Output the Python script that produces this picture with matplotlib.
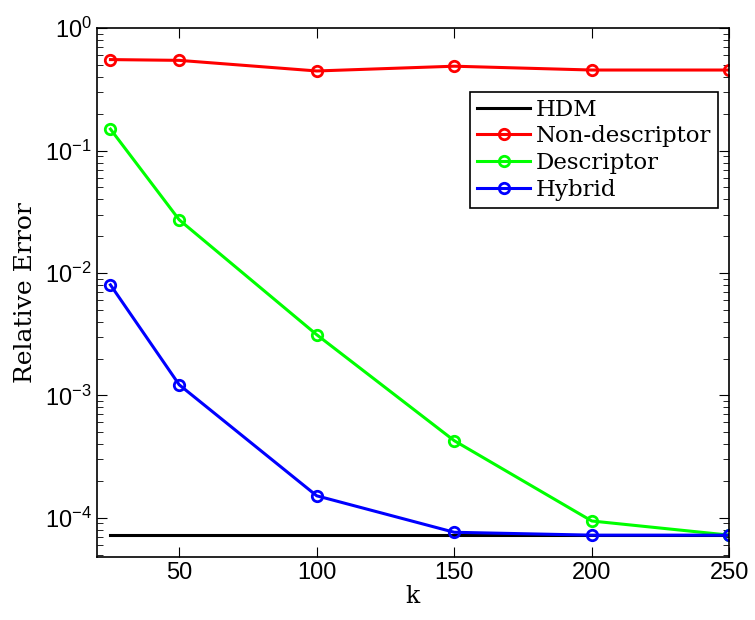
import matplotlib
matplotlib.use("Agg")
import matplotlib.pyplot as plt

# data
k = [25, 50, 100, 150, 200, 250]
hdm = [7.2e-5, 7.2e-5, 7.2e-5, 7.2e-5, 7.2e-5, 7.2e-5]
non_descriptor = [0.555, 0.547, 0.448, 0.49, 0.456, 0.456]
descriptor = [0.15, 0.0272, 0.00313, 4.26e-4, 9.4e-5, 7.2e-5]
hybrid = [8.0e-3, 1.22e-3, 1.51e-4, 7.6e-5, 7.2e-5, 7.2e-5]
xticks = [50, 100, 150, 200, 250]

plt.rcParams['mathtext.fontset'] = 'custom'
plt.rcParams['mathtext.rm'] = 'Liberation Sans'
plt.rcParams['mathtext.it'] = 'Liberation Sans:italic'
plt.rcParams['font.family'] = 'Liberation Sans'

serif = 'DejaVu Serif'

fig = plt.figure(figsize=(7.55, 6.2), dpi=100)
ax = fig.add_axes([96.7 / 755, 1 - 556.7 / 620, (729.3 - 96.7) / 755, (556.7 - 28.3) / 620])

mk = dict(marker='o', markersize=7.5, markerfacecolor='none', markeredgewidth=2)
ax.plot(k, hdm, color='black', lw=2.2, label='HDM')
ax.plot(k, non_descriptor, color='red', lw=2.2, label='Non-descriptor', **mk)
ax.plot(k, descriptor, color='#00ff00', lw=2.2, label='Descriptor', **mk)
ax.plot(k, hybrid, color='blue', lw=2.2, label='Hybrid', **mk)

ax.set_yscale('log')
ax.set_xlim(20, 250)
ax.set_ylim(4.8e-5, 1)
ax.set_xticks(xticks)
ax.tick_params(which='both', direction='in', top=True, right=True, labelsize=17)
ax.tick_params(which='major', length=7)
ax.tick_params(which='minor', length=4)
for s in ax.spines.values():
    s.set_linewidth(1.2)

ax.set_xlabel('k', fontfamily=serif, fontsize=17, labelpad=1)
ax.set_ylabel('Relative Error', fontfamily=serif, fontsize=18, labelpad=6)

leg = ax.legend(loc='upper right', bbox_to_anchor=(718 / 755, 1 - 92 / 620),
                bbox_transform=fig.transFigure, fancybox=False, framealpha=1,
                edgecolor='black', prop={'family': serif, 'size': 16.5},
                handlelength=2.3, borderpad=0.3, labelspacing=0.2,
                handletextpad=0.25, borderaxespad=0)
leg.get_frame().set_linewidth(1.2)

fig.savefig('out.png', dpi=100)
